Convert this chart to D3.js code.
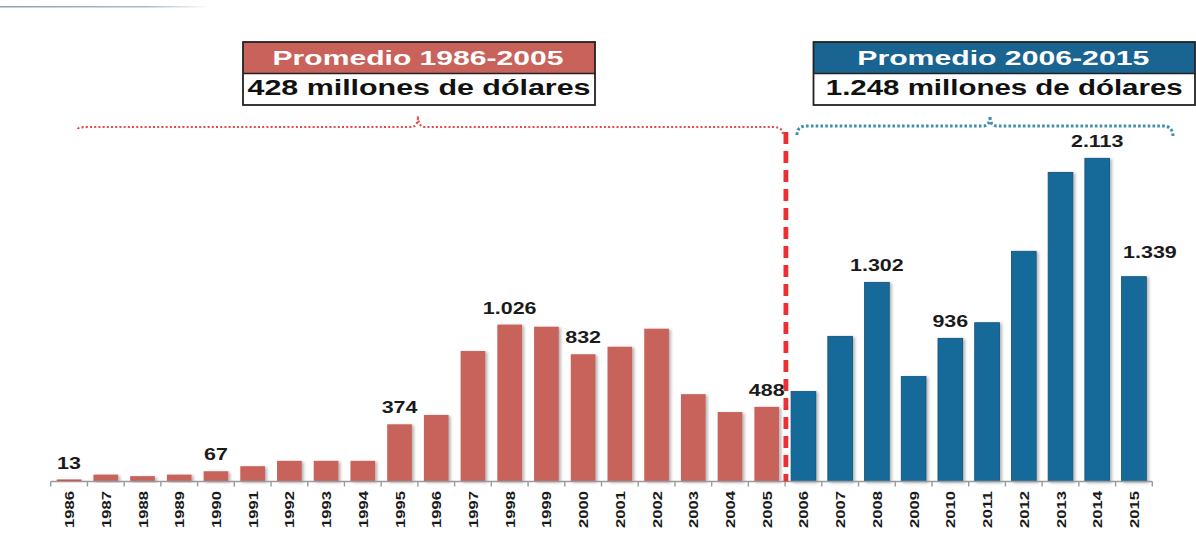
<!DOCTYPE html>
<html>
<head>
<meta charset="utf-8">
<script src="https://cdn.jsdelivr.net/npm/d3@7"></script>
<style>
  html, body { margin: 0; padding: 0; background: #ffffff; }
  svg { display: block; font-family: "Liberation Sans", Arial, sans-serif; }
</style>
</head>
<body>
<svg id="chart" width="1196" height="538"></svg>
<script>
// ---- data ----
const years = ["1986","1987","1988","1989","1990","1991","1992","1993","1994","1995",
               "1996","1997","1998","1999","2000","2001","2002","2003","2004","2005",
               "2006","2007","2008","2009","2010","2011","2012","2013","2014","2015"];
const values = [13, 45, 35, 45, 67, 100, 135, 135, 135, 374,
                435, 853, 1026, 1012, 832, 881, 999, 571, 454, 488,
                588, 949, 1302, 686, 936, 1038, 1505, 2021, 2113, 1339];
const labelledYears = ["1986","1990","1995","1998","2000","2005","2008","2010","2014","2015"];
const labelTexts    = ["13","67","374","1.026","832","488","1.302","936","2.113","1.339"];
const periodTitles  = ["Promedio 1986-2005", "Promedio 2006-2015"];
const periodValues  = ["428 millones de dólares", "1.248 millones de dólares"];

// ---- styles ----
const RED = "#C8645C", RED_HEAD = "#C8625B", BLUE = "#186A9A", BLUE_HEAD = "#1A6491";
const svg = d3.select("#chart");

const defs = svg.append("defs");
const f = defs.append("filter").attr("id","shadow").attr("x","-30%").attr("y","-10%").attr("width","170%").attr("height","130%");
f.append("feDropShadow").attr("dx",2).attr("dy",1).attr("stdDeviation",1.4).attr("flood-color","#000").attr("flood-opacity",0.3);
const g0 = defs.append("linearGradient").attr("id","fade");
g0.append("stop").attr("offset","0").attr("stop-color","#8aa3b3");
g0.append("stop").attr("offset","0.7").attr("stop-color","#a9bcc8");
g0.append("stop").attr("offset","1").attr("stop-color","#ffffff");

// faint top rule (slide remnant)
svg.append("rect").attr("x",0).attr("y",6).attr("width",210).attr("height",1.5).attr("fill","url(#fade)");

// ---- scales ----
const x = d3.scaleBand().domain(years).range([50.7, 1152.3]).paddingInner(0.327).paddingOuter(0.1635);
const y = d3.scaleLinear().domain([0, 2113]).range([481.5, 158.3]);
const step = x.step();
const x0 = x.range()[0];

function colorOf(yr) {
  if (yr === "1986") return "#DD3A36";
  return (+yr <= 2005) ? RED : BLUE;
}

// ---- bars ----
svg.append("g").selectAll("rect").data(years).join("rect")
  .attr("x", d => x(d))
  .attr("y", (d,i) => y(values[i]))
  .attr("width", x.bandwidth())
  .attr("height", (d,i) => y(0) - y(values[i]))
  .attr("fill", d => colorOf(d))
  .attr("stroke", d => (+d >= 2006) ? "#114f78" : "none")
  .attr("stroke-width", 0.8)
  .attr("filter", "url(#shadow)");

// ---- axis ----
const axisG = svg.append("g").attr("transform", `translate(0,${y(0)})`);
axisG.call(d3.axisBottom(x).tickSize(0).tickPadding(0));
axisG.select(".domain").remove();
axisG.append("line").attr("x1", x0).attr("x2", x.range()[1]).attr("y1",0).attr("y2",0)
  .attr("stroke","#9a9a9a").attr("stroke-width",1.6);
axisG.selectAll(".bnd").data(d3.range(years.length + 1)).join("line")
  .attr("class","bnd")
  .attr("x1", i => x0 + i*step).attr("x2", i => x0 + i*step)
  .attr("y1", 0).attr("y2", 5)
  .attr("stroke","#9a9a9a").attr("stroke-width",1.4);
axisG.selectAll(".tick text")
  .attr("transform","rotate(-90)")
  .attr("text-anchor","end")
  .attr("x", -9.5).attr("y", 5).attr("dy", 0)
  .attr("font-size", 13.5).attr("font-weight", "bold").attr("fill", "#1a1a1a")
  .attr("font-family", "'Liberation Sans', Arial, sans-serif")
  .attr("textLength", 37).attr("lengthAdjust","spacingAndGlyphs");

// ---- value labels ----
const lbl = svg.append("g").selectAll("text").data(labelledYears).join("text")
  .attr("x", (d) => x(d) + x.bandwidth()/2 + (d === "2015" ? 16 : 0))
  .attr("y", (d) => y(values[years.indexOf(d)]) - (d === "2015" ? 18.5 : 11))
  .attr("text-anchor","middle")
  .attr("font-size", 16.5).attr("font-weight","bold").attr("fill","#1a1a1a")
  .text((d,i) => labelTexts[i]);
lbl.each(function() {
  const w = this.getComputedTextLength();
  d3.select(this).attr("textLength", w*1.3).attr("lengthAdjust","spacingAndGlyphs");
});

// ---- divider ----
const divX = x0 + years.indexOf("2006")*step + 0.8;
svg.append("line").attr("x1",divX).attr("x2",divX).attr("y1",132).attr("y2",y(0))
  .attr("stroke","#EE2E33").attr("stroke-width",4.8).attr("stroke-dasharray","12,7");

// ---- braces ----
function bracePath(x1, x2, xm, yl, yp, ye1, ye2) {
  const r = 10, r2 = 7;
  return `M${x1},${ye1} Q${x1},${yl} ${x1+r},${yl} L${xm-r2},${yl} Q${xm},${yl} ${xm},${yp} ` +
         `Q${xm},${yl} ${xm+r2},${yl} L${x2-r},${yl} Q${x2},${yl} ${x2},${ye2}`;
}
svg.append("path").attr("d", bracePath(78, 783, 418, 127, 116, 129, 135))
  .attr("fill","none").attr("stroke","#E8474B").attr("stroke-width",2.2).attr("stroke-dasharray","2,2.2");
svg.append("path").attr("d", bracePath(797, 1173, 990, 126, 116, 135, 137))
  .attr("fill","none").attr("stroke","#3F8FAE").attr("stroke-width",3).attr("stroke-dasharray","2.6,2.2");

// ---- period boxes ----
const boxes = [
  {x1: 243, x2: 595, head: RED_HEAD, tl: 291, vl: 343},
  {x1: 813.5, x2: 1195, head: BLUE_HEAD, tl: 292, vl: 357}
];
boxes.forEach((b, i) => {
  const g = svg.append("g");
  const cx = (b.x1 + b.x2)/2;
  g.append("rect").attr("x", b.x1).attr("y", 42).attr("width", b.x2-b.x1).attr("height", 31.5).attr("fill", b.head);
  g.append("rect").attr("x", b.x1).attr("y", 73.5).attr("width", b.x2-b.x1).attr("height", 31.5).attr("fill", "#fff");
  g.append("rect").attr("x", b.x1).attr("y", 42).attr("width", b.x2-b.x1).attr("height", 63)
    .attr("fill","none").attr("stroke","#222").attr("stroke-width",1.8);
  g.append("line").attr("x1", b.x1).attr("x2", b.x2).attr("y1",73.5).attr("y2",73.5).attr("stroke","#222").attr("stroke-width",1.6);
  g.append("text").attr("x", cx - 1).attr("y", 65).attr("text-anchor","middle")
    .attr("font-size",20).attr("font-weight","bold").attr("fill","#fff")
    .attr("textLength", b.tl).attr("lengthAdjust","spacingAndGlyphs")
    .text(periodTitles[i]);
  g.append("text").attr("x", cx).attr("y", 95).attr("text-anchor","middle")
    .attr("font-size",22).attr("font-weight","bold").attr("fill","#111")
    .attr("textLength", b.vl).attr("lengthAdjust","spacingAndGlyphs")
    .text(periodValues[i]);
});
</script>
</body>
</html>
